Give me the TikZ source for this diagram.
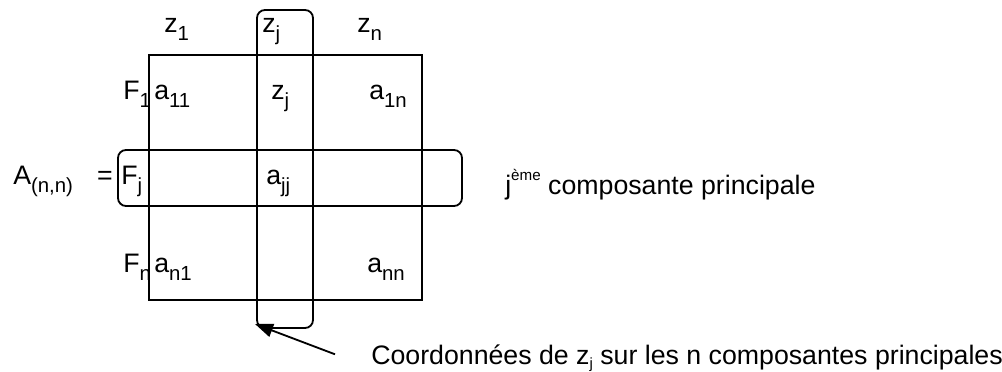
\documentclass[tikz,border=0pt]{standalone}
\usepackage{fontspec}
\setmainfont{Liberation Sans}
\usetikzlibrary{arrows.meta}
\newcommand{\idx}[1]{\raisebox{-0.27em}{\fontsize{14.5}{16}\selectfont #1}}
\newcommand{\smallidx}[1]{\raisebox{-0.12em}{\fontsize{10.5}{12}\selectfont #1}}
\newcommand{\expo}[1]{\raisebox{0.55em}{\fontsize{10.8}{12}\selectfont #1}}

\begin{document}
\begin{tikzpicture}[x=0.025cm,y=-0.025cm,
		box/.style={line width=1.3pt},
		rbox/.style={line width=1.3pt,rounded corners=0.2cm},
		lbl/.style={inner sep=0pt,anchor=base west,font=\fontsize{19}{22}\selectfont},
		pointer/.style={line width=1.3pt,-{Triangle[length=0.45cm,width=0.34cm]}}]
		\useasboundingbox (0,0) rectangle (1002,372);
		% matrix
		\draw[box] (149,55) rectangle (422,300);
		
		% column j and row j
		\draw[rbox] (257,10) rectangle (313,328);
		\draw[rbox] (118,150) rectangle (462,206);
		\coordinate (colbot) at (255,324);
		
		% column heads
		\node[lbl] (z1) at (164,33) {z\idx{1}};
		\node[lbl] (zjtop) at (262,33) {z\idx{j}};
		\node[lbl] (zn) at (357,33) {z\idx{n}};
		
		% first row
		\node[lbl] (F1) at (123,100) {F\idx{1}};
		\node[lbl] (a11) at (154,100) {a\idx{11}};
		\node[lbl] (zj) at (271,100) {z\idx{j}};
		\node[lbl] (a1n) at (369,100) {a\idx{1n}};
		
		% row j
		\node[lbl] (Ann) at (13,185) {A\idx{(n,n)}\hspace{0.6cm}=};
		\node[lbl] (Fj) at (121,185) {F\idx{j}};
		\node[lbl] (ajj) at (266,185) {a\idx{jj}};
		\node[lbl] (rowlbl) at (505,195) {j\expo{ème} composante principale};
		
		% last row
		\node[lbl] (Fn) at (123,273) {F\idx{n}};
		\node[lbl] (an1) at (154,273) {a\idx{n1}};
		\node[lbl] (ann) at (367,273) {a\idx{nn}};
		
		% pointer
		\node[lbl,inner xsep=0.9cm] (collbl) at (335,365) {Coordonnées de z\smallidx{j} sur les n composantes principales};
		\draw[pointer] ([yshift=0.1cm]collbl.west) -- (colbot);
	\end{tikzpicture}
\end{document}
